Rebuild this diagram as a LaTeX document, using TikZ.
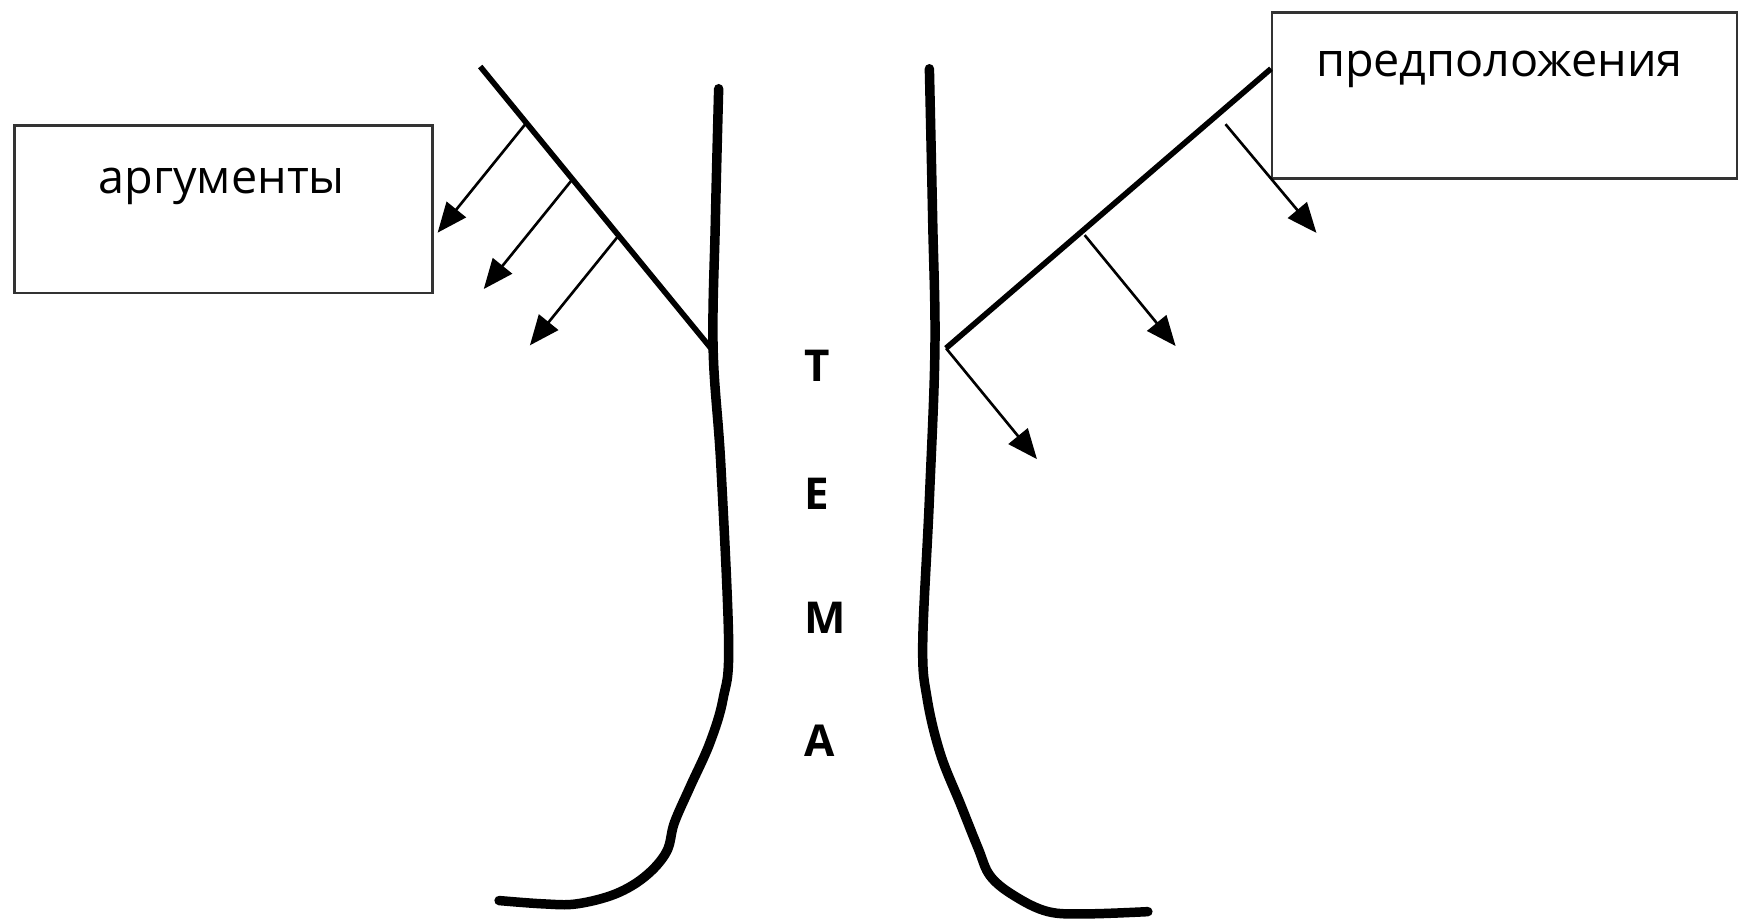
\documentclass[tikz,border=0pt]{standalone}
\usepackage{fontspec}
\setmainfont{Open Sans}
\usetikzlibrary{arrows.meta,calc}

\tikzset{
  box/.style={draw=black!80, line width=0.7pt, anchor=north west, inner sep=0pt},
  trunk/.style={line width=2.7pt, line cap=round},
  branch/.style={line width=1.6pt},
  twig/.style={line width=0.75pt, -{Triangle[length=8.5pt,width=7pt]}},
  lbl/.style={font=\fontsize{13.3}{16}\selectfont},
  letter/.style={font=\fontsize{12.5}{14}\selectfont\bfseries, anchor=west}
}

\begin{document}
\begin{tikzpicture}[x=0.01109cm, y=-0.01109cm]
  \useasboundingbox (0,0) rectangle (1568,832);
  % boxes
  \node[box, minimum width=4.181cm, minimum height=1.675cm] (argbox) at (12,112) {};
  \node[box, minimum width=4.647cm, minimum height=1.664cm] (hypbox) at (1146,10) {};
  \node[lbl] (arg) at (200,168) {аргументы};
  \node[lbl] (hyp) at (1352,63) {предположения};
  % trunk
  \draw[trunk] plot[smooth, tension=0.6] coordinates {(648,80) (645,200) (643,314) (650,420) (657,580) (652,630) (640,670) (622,710) (608,742) (601,768) (582,790) (555,806) (520,815) (490,815) (450,812)};
  \draw[trunk] plot[smooth, tension=0.6] coordinates {(838,62) (841,200) (843,314) (838,450) (832,580) (836,630) (848,680) (866,725) (882,765) (893,790) (915,808) (945,822) (980,824) (1035,822)};
  \foreach \ch/\y [count=\i] in {Т/330,Е/445,М/557,А/668}
    \node[letter] (l\i) at (714,\y) {\ch};
  % left branch
  \coordinate (lt) at (433,60); \coordinate (lb) at (641,314);
  \draw[branch] (lt) -- (lb);
  \foreach \t [count=\i] in {0.2,0.4,0.6}{
    \coordinate (la\i) at ($(lt)!\t!(lb)$);
    \draw[twig] (la\i) -- ++(-80,99);
  }
  % right branch
  \coordinate (rt) at (hypbox.north west |- 0,62); \coordinate (rb) at (853,314);
  \draw[branch] (rt) -- (rb);
  \coordinate (ra1) at (1105,112); \coordinate (ra2) at (978,212);
  \draw[twig] (ra1) -- ++(82,98);
  \draw[twig] (ra2) -- ++(82,100);
  \draw[twig] (rb) -- ++(82,100);
\end{tikzpicture}
\end{document}
